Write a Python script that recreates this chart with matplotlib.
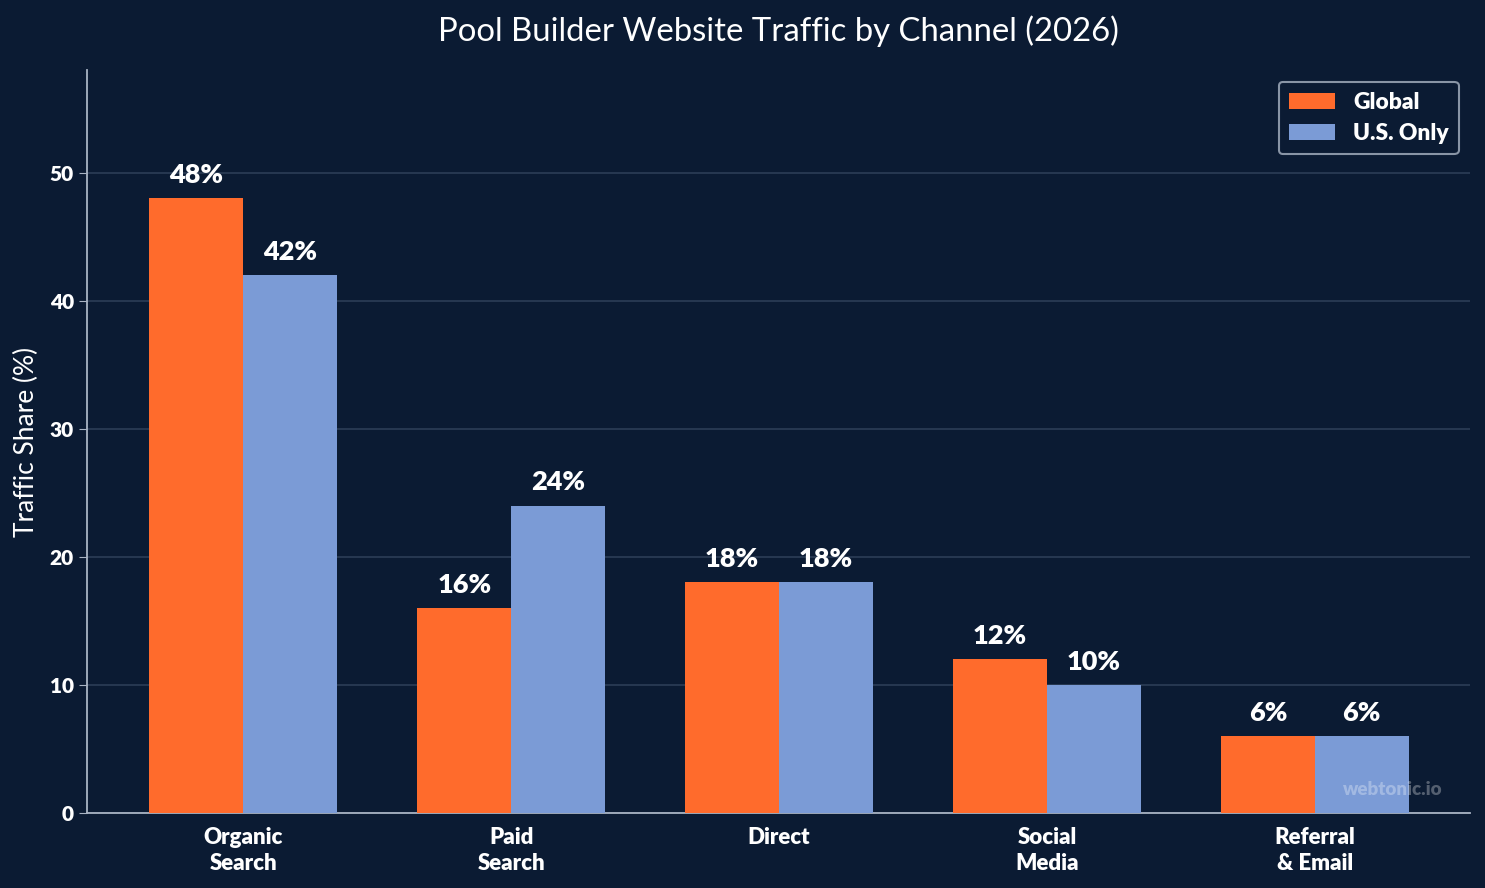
import matplotlib
matplotlib.use("Agg")
import matplotlib.pyplot as plt
import numpy as np

channels = ["Organic\nSearch", "Paid\nSearch", "Direct", "Social\nMedia", "Referral\n& Email"]
global_share = [48, 16, 18, 12, 6]
us_share = [42, 24, 18, 10, 6]
series_names = ["Global", "U.S. Only"]

BG = "#0b1b33"
ORANGE = "#ff6b2c"
BLUE = "#7b9bd6"
AXIS = "#a9b4c4"
HEAVY = "heavy"

plt.rcParams["font.family"] = ["Lato", "DejaVu Sans"]


def main():
    fig, ax = plt.subplots(figsize=(14.85, 8.88), dpi=100)
    fig.patch.set_facecolor(BG)
    ax.set_facecolor(BG)
    fig.subplots_adjust(left=0.0586, right=0.99, top=0.921, bottom=0.0845)

    x = np.arange(len(channels))
    w = 0.35
    b1 = ax.bar(x - w / 2, global_share, w, color=ORANGE, label=series_names[0], zorder=3)
    b2 = ax.bar(x + w / 2, us_share, w, color=BLUE, label=series_names[1], zorder=3)

    for bars in (b1, b2):
        for rect in bars:
            h = rect.get_height()
            ax.annotate(f"{h:.0f}%", (rect.get_x() + rect.get_width() / 2, h),
                        xytext=(0, 8), textcoords="offset points",
                        ha="center", va="bottom", color="white",
                        fontsize=19.5, fontweight=HEAVY)

    ax.set_ylim(0, 58)
    ax.set_xlim(-0.583, 4.58)
    ax.set_xticks(x)
    ax.set_xticklabels(channels, fontsize=16, fontweight=HEAVY, color="white",
                       linespacing=1.3)
    ax.set_yticks([0, 10, 20, 30, 40, 50])
    ax.tick_params(axis="y", labelsize=15, labelcolor="white", color=AXIS, length=6)
    for lab in ax.get_yticklabels():
        lab.set_fontweight(HEAVY)
    ax.tick_params(axis="x", length=0, pad=10)

    ax.yaxis.grid(True, color="#2c3d56", linewidth=1.2, zorder=0)
    ax.set_axisbelow(True)
    for s in ("top", "right"):
        ax.spines[s].set_visible(False)
    for s in ("left", "bottom"):
        ax.spines[s].set_color(AXIS)
        ax.spines[s].set_linewidth(1.3)

    ax.set_ylabel("Traffic Share (%)", fontsize=19, color="white", labelpad=8)
    ax.set_title("Pool Builder Website Traffic by Channel (2026)", fontsize=23.7,
                 color="white", pad=21)

    leg = ax.legend(loc="upper right", fontsize=16.4, frameon=True,
                    facecolor=BG, edgecolor=AXIS, handlelength=2.0,
                    handleheight=0.75, borderpad=0.45, labelspacing=0.45,
                    handletextpad=0.8)
    leg.get_frame().set_linewidth(1.5)
    for t in leg.get_texts():
        t.set_color("white")
        t.set_fontweight(HEAVY)

    ax.text(0.98, 0.02, "webtonic.io", transform=ax.transAxes, ha="right",
            va="bottom", fontsize=13.5, fontweight=HEAVY, color="white", alpha=0.3)

    fig.savefig("out.png", dpi=100, facecolor=BG)


if __name__ == "__main__":
    main()
